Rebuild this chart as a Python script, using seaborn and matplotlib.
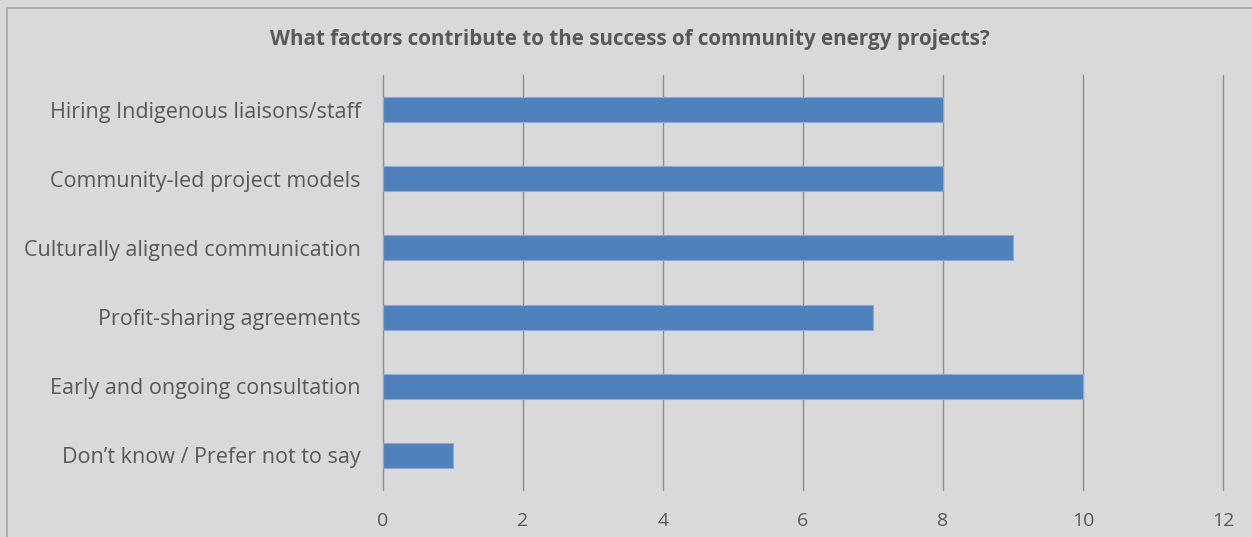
import matplotlib
matplotlib.use("Agg")
import matplotlib.pyplot as plt
import seaborn as sns
import pandas as pd
from matplotlib.patches import Rectangle

factors = [
    "Hiring Indigenous liaisons/staff",
    "Community-led project models",
    "Culturally aligned communication",
    "Profit-sharing agreements",
    "Early and ongoing consultation",
    "Don\u2019t know / Prefer not to say",
]
counts = [8, 8, 9, 7, 10, 1]
xticks = [0, 2, 4, 6, 8, 10, 12]

df = pd.DataFrame({"factor": factors, "count": counts})

bg = "#d9d9d9"
txt = "#595959"

sns.set_style("white")
plt.rcParams["font.family"] = ["Open Sans", "DejaVu Sans"]

fig = plt.figure(figsize=(12.52, 5.37), dpi=100)
fig.patch.set_facecolor(bg)
ax = fig.add_axes([383 / 1252, 1 - 490 / 537, (1223 - 383) / 1252, (490 - 75) / 537])
ax.set_facecolor(bg)

sns.barplot(data=df, x="count", y="factor", orient="h", color="#4f81bd",
            width=0.36, edgecolor="#8eaadb", linewidth=0.8, saturation=1, ax=ax, zorder=3)

ax.set_xlim(0, 12)
ax.set_xticks(xticks)
ax.set_xticklabels([str(t) for t in xticks], fontsize=14, color=txt)
ax.tick_params(axis="y", labelsize=15.5, colors=txt, length=0, pad=16)
ax.tick_params(axis="x", length=0, pad=16, colors=txt)
ax.grid(axis="x", color="#8c8c8c", linewidth=1.0, zorder=0)
ax.grid(axis="y", visible=False)
for gl in ax.get_xgridlines():
    gl.set_clip_on(False)
for s in ax.spines.values():
    s.set_visible(False)
ax.set_xlabel("")
ax.set_ylabel("")

fig.text(630 / 1252, 1 - 40 / 537, "What factors contribute to the success of community energy projects?",
         ha="center", va="center", fontsize=14.9, fontweight="bold", color=txt)

fig.patches.append(Rectangle((7 / 1252, -0.01), 1.0, 1 - 8 / 537 + 0.01, transform=fig.transFigure,
                             fill=False, edgecolor="#a6a6a6", linewidth=1.2))

fig.savefig("out.png", dpi=100, facecolor=bg)
